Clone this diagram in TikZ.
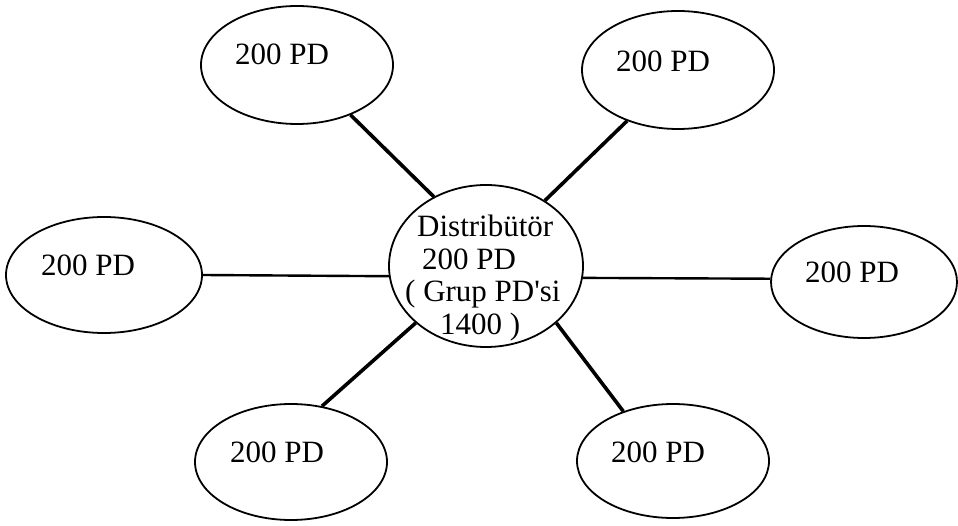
\documentclass[tikz,border=0pt]{standalone}
\usepackage{fontspec}
\setmainfont{Liberation Serif}
\usetikzlibrary{shapes.geometric}

\tikzset{
  pdoval/.style={ellipse, draw, line width=1.8pt, inner sep=0pt,
                 minimum width=192pt, minimum height=118pt},
  hub/.style={ellipse, draw, line width=1.8pt, inner sep=0pt,
              minimum width=194pt, minimum height=162pt},
  lbl/.style={anchor=base west, inner sep=0pt, font=\fontsize{31}{33}\selectfont},
  spoke/.style={line width=3.6pt},
  flat/.style={line width=2.4pt}
}

\begin{document}
\begin{tikzpicture}[x=1pt, y=-1pt]
  \useasboundingbox (0,0) rectangle (958,526);

  % outer group members
  \node[pdoval] (tl) at (297,65) {};
  \node[pdoval] (tr) at (678,70) {};
  \node[pdoval, minimum width=196pt, minimum height=116pt] (lf) at (104,275) {};
  \node[pdoval, minimum width=186pt, minimum height=112pt] (rt) at (864,282) {};
  \node[pdoval, minimum height=116pt] (bl) at (291,462) {};
  \node[pdoval, minimum height=114pt] (br) at (673,461) {};

  % distributor in the middle
  \node[hub] (c) at (486,266) {};

  % member labels
  \node[lbl] (tltext) at (235,65) {200 PD};
  \node[lbl] (trtext) at (616,72) {200 PD};
  \node[lbl] (lftext) at (41,276) {200 PD};
  \node[lbl] (rttext) at (805,283) {200 PD};
  \node[lbl] (bltext) at (230,462) {200 PD};
  \node[lbl] (brtext) at (611,462) {200 PD};

  % distributor label, one line per node
  \node[lbl] (c1) at (417,237) {Distribütör};
  \node[lbl] (c2) at (422,270) {200 PD};
  \node[lbl] (c3) at (405,302) {( Grup PD\textquotesingle si};
  \node[lbl] (c4) at (440,335) {1400 )};

  % connectors
  \draw[spoke] (tl.-43.8) -- (c.127.9);
  \draw[spoke] (tr.-135.6) -- (c.48.8);
  \draw[flat]  (lf.-0.6) -- (c.186);
  \draw[flat]  (rt.178) -- (c.-7.7);
  \draw[spoke] (bl.61) -- (c.-141.7);
  \draw[spoke] (br.135) -- (c.-39);
\end{tikzpicture}
\end{document}
